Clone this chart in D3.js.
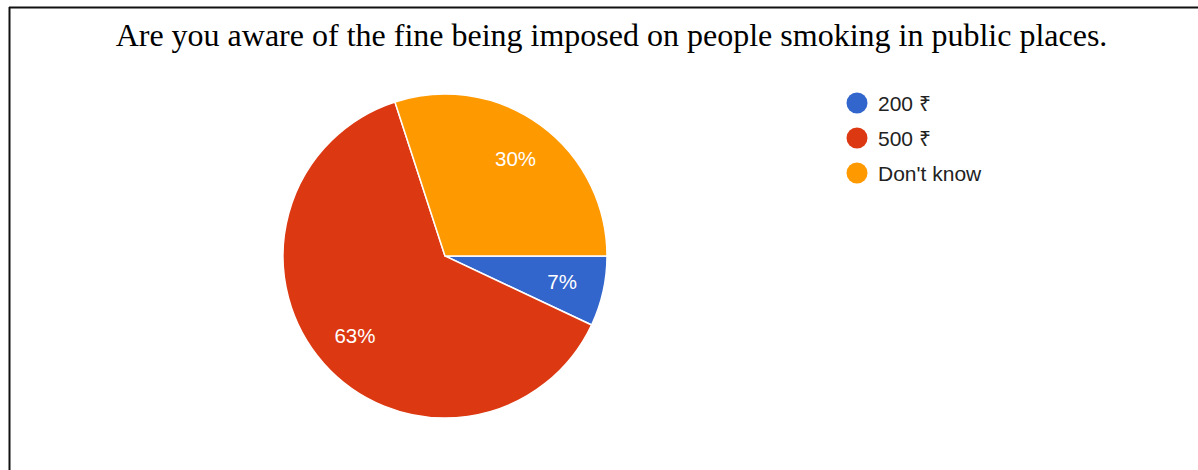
<!DOCTYPE html>
<html>
<head>
<meta charset="utf-8">
<script src="https://cdn.jsdelivr.net/npm/d3@7"></script>
<style>
  html, body { margin: 0; padding: 0; background: #fff; }
  svg { display: block; }
</style>
</head>
<body>
<svg id="chart" width="1198" height="470"></svg>
<script>
// Survey responses (percent of respondents)
const categories = ["200 ₹", "500 ₹", "Don't know"];
const values = [7, 63, 30];
const colors = ["#3366CC", "#DC3912", "#FF9900"];
const title = "Are you aware of the fine being imposed on people smoking in public places.";

const svg = d3.select("#chart");

// Frame: top and left rules
svg.append("line").attr("x1", 9).attr("x2", 1198).attr("y1", 7.5).attr("y2", 7.5)
  .attr("stroke", "#111").attr("stroke-width", 2);
svg.append("line").attr("x1", 9.5).attr("x2", 9.5).attr("y1", 7).attr("y2", 470)
  .attr("stroke", "#111").attr("stroke-width", 2);

// Title
svg.append("text")
  .attr("x", 611.5).attr("y", 46)
  .attr("text-anchor", "middle")
  .attr("font-family", "'Liberation Serif', 'Times New Roman', serif")
  .attr("font-size", 32)
  .attr("fill", "#000")
  .text(title);

// Pie
const cx = 445, cy = 256, R = 162;
const pie = d3.pie().sort(null).value(d => d)
  .startAngle(Math.PI / 2).endAngle(Math.PI / 2 + 2 * Math.PI);
const arcs = pie(values);
const arc = d3.arc().innerRadius(0).outerRadius(R);
const labelArc = d3.arc().innerRadius(120).outerRadius(120);

const g = svg.append("g").attr("transform", `translate(${cx},${cy})`);
g.selectAll("path.slice").data(arcs).enter().append("path")
  .attr("class", "slice")
  .attr("d", arc)
  .attr("fill", (d, i) => colors[i])
  .attr("stroke", "#fff")
  .attr("stroke-width", 1.5);

g.selectAll("text.pct").data(arcs).enter().append("text")
  .attr("class", "pct")
  .attr("transform", d => `translate(${labelArc.centroid(d)})`)
  .attr("text-anchor", "middle")
  .attr("dy", "0.35em")
  .attr("font-family", "'Liberation Sans', Arimo, Arial, sans-serif")
  .attr("font-size", 20.5)
  .attr("fill", "#fff")
  .text(d => d.data + "%");

// Legend
const legend = svg.append("g").attr("transform", "translate(857,103)");
const item = legend.selectAll("g").data(categories).enter().append("g")
  .attr("transform", (d, i) => `translate(0,${i * 35})`);
item.append("circle").attr("r", 10.5).attr("fill", (d, i) => colors[i]);
item.append("text")
  .attr("x", 21).attr("dy", "0.36em")
  .attr("font-family", "'Liberation Sans', Arimo, Arial, sans-serif")
  .attr("font-size", 21)
  .attr("fill", "#222")
  .text(d => d);
</script>
</body>
</html>
